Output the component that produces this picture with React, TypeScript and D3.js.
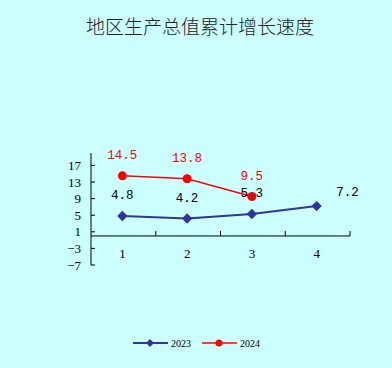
import React, { useEffect, useRef } from "react";
import * as d3 from "d3";

const categories = ["1", "2", "3", "4"];
const series2023 = [4.8, 4.2, 5.3, 7.2];
const series2024 = [14.5, 13.8, 9.5];
const yTicks = [17, 13, 9, 5, 1, -3, -7];
const title = "地区生产总值累计增长速度";

const App = () => {
  const ref = useRef<SVGSVGElement>(null);

  useEffect(() => {
    const width = 392;
    const height = 368;
    const marginLeft = 91;
    const right = 350;
    const top = 153;
    const bottom = 265;

    const svg = d3.select(ref.current);
    svg.selectAll("*").remove();

    svg.append("rect").attr("width", width).attr("height", height).attr("fill", "#CCFFFF");

    svg
      .append("text")
      .attr("x", width / 2 + 4)
      .attr("y", 34)
      .attr("text-anchor", "middle")
      .attr("font-family", "'Noto Sans CJK SC'")
      .attr("font-weight", 300)
      .attr("font-size", 19)
      .attr("fill", "#222")
      .text(title);

    const x = d3.scaleBand().domain(categories).range([marginLeft, right]).padding(0);
    const y = d3.scaleLinear().domain([-7, 20]).range([bottom, top]);
    const cx = (i: number) => (x(categories[i]) as number) + x.bandwidth() / 2 - 1;

    // y axis
    const yAxis = svg.append("g").attr("transform", `translate(${marginLeft},0)`);
    yAxis.append("line").attr("y1", top).attr("y2", bottom).attr("stroke", "#000");
    yAxis
      .selectAll("g.t")
      .data(yTicks)
      .join("g")
      .attr("transform", (d) => `translate(0,${y(d)})`)
      .each(function (d) {
        const g = d3.select(this);
        g.append("line").attr("x2", 4).attr("stroke", "#000");
        g.append("text")
          .attr("x", -10)
          .attr("dy", "0.35em")
          .attr("text-anchor", "end")
          .attr("font-family", "'Liberation Serif'")
          .attr("font-size", 13)
          .text(d < 0 ? `\u2212${-d}` : d);
      });

    // x axis at zero
    const xAxis = svg.append("g").attr("transform", `translate(0,${y(0)})`);
    xAxis.append("line").attr("x1", marginLeft).attr("x2", right).attr("stroke", "#000");
    xAxis
      .selectAll("line.tick")
      .data(categories)
      .join("line")
      .attr("class", "tick")
      .attr("x1", (d) => (x(d) as number) + x.bandwidth())
      .attr("x2", (d) => (x(d) as number) + x.bandwidth())
      .attr("y1", 0)
      .attr("y2", -5)
      .attr("stroke", "#000");
    xAxis
      .selectAll("text")
      .data(categories)
      .join("text")
      .attr("x", (d, i) => cx(i))
      .attr("y", 22)
      .attr("text-anchor", "middle")
      .attr("font-family", "'Liberation Serif'")
      .attr("font-size", 13)
      .text((d) => d);

    const line = d3
      .line<number>()
      .x((d, i) => cx(i))
      .y((d) => y(d));

    // square rotated 45deg -> diamond
    const diamond = (s: number) => `M0,${-s}L${s},0L0,${s}L${-s},0Z`;

    // 2023
    svg.append("path").attr("d", line(series2023)).attr("fill", "none").attr("stroke", "#333399").attr("stroke-width", 2);
    svg
      .append("g")
      .selectAll("path")
      .data(series2023)
      .join("path")
      .attr("d", diamond(5.2))
      .attr("transform", (d, i) => `translate(${cx(i)},${y(d)})`)
      .attr("fill", "#333399");

    // 2024
    svg.append("path").attr("d", line(series2024)).attr("fill", "none").attr("stroke", "#FF0000").attr("stroke-width", 1.5);
    svg
      .append("g")
      .selectAll("circle")
      .data(series2024)
      .join("circle")
      .attr("cx", (d, i) => cx(i))
      .attr("cy", (d) => y(d))
      .attr("r", 4.5)
      .attr("fill", "#FF0000");

    // value labels
    const labelFont = "'Liberation Mono'";
    svg
      .append("g")
      .selectAll("text")
      .data(series2023)
      .join("text")
      .attr("x", (d, i) => cx(i) + (i === series2023.length - 1 ? 31 : 0))
      .attr("y", (d, i) => y(d) - (i === series2023.length - 1 ? 14 : 21))
      .attr("dy", "0.35em")
      .attr("text-anchor", "middle")
      .attr("font-family", labelFont)
      .attr("font-size", 12.5)
      .attr("fill", "#000")
      .text((d) => d.toFixed(1));
    svg
      .append("g")
      .selectAll("text")
      .data(series2024)
      .join("text")
      .attr("x", (d, i) => cx(i))
      .attr("y", (d) => y(d) - 21)
      .attr("dy", "0.35em")
      .attr("text-anchor", "middle")
      .attr("font-family", labelFont)
      .attr("font-size", 12.5)
      .attr("fill", "#FF0000")
      .text((d) => d.toFixed(1));

    // legend
    const legend = [
      { name: "2023", color: "#333399", x: 133 },
      { name: "2024", color: "#FF0000", x: 202 },
    ];
    const lg = svg.append("g").attr("transform", "translate(0,343)");
    legend.forEach((l, i) => {
      const g = lg.append("g").attr("transform", `translate(${l.x},0)`);
      g.append("line").attr("x2", 35).attr("stroke", l.color).attr("stroke-width", i === 0 ? 2 : 1.5);
      if (i === 0) {
        g.append("path").attr("d", diamond(4)).attr("transform", "translate(17,0)").attr("fill", l.color);
      } else {
        g.append("circle").attr("cx", 17).attr("r", 3.5).attr("fill", l.color);
      }
      g.append("text")
        .attr("x", 38)
        .attr("dy", "0.35em")
        .attr("font-family", "'Liberation Serif'")
        .attr("font-size", 10)
        .text(l.name);
    });
  }, []);

  return (
    <svg
      ref={ref}
      width={392}
      height={368}
      style={{ position: "absolute", left: 0, top: 0, display: "block" }}
    />
  );
};

export default App;
